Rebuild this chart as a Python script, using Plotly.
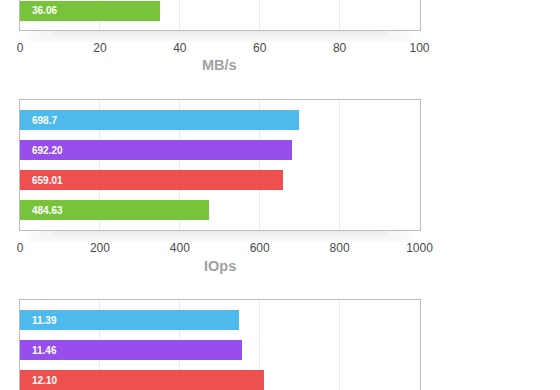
import plotly.graph_objects as go

W, H = 560, 390

# categories bottom -> top
categories = ["green", "red", "purple", "blue"]
colors = {"green": "#77C43B", "red": "#EE4F4F", "purple": "#984EEC", "blue": "#4DBAEB"}

# Panel 1 (MB/s) - only the green bar is visible
mbps_cats = ["green"]
mbps_lengths = [35.1]
mbps_labels = ["36.06"]

# Panel 2 (IOps)
iops_cats = ["green", "red", "purple", "blue"]
iops_lengths = [473.7, 659.0, 681.7, 698.0]
iops_labels = ["484.63", "659.01", "692.20", "698.7"]

# Panel 3 (cut off) - red, purple, blue visible
p3_cats = ["red", "purple", "blue"]
p3_lengths = [12.23, 11.11, 10.98]
p3_labels = ["12.10", "11.46", "11.39"]

x_ticks_mbps = [0, 20, 40, 60, 80, 100]
x_ticks_iops = [0, 200, 400, 600, 800, 1000]
x_ticks_p3 = [0, 4, 8, 12, 16, 20]

def py(px):
    return 1 - px / H

xdom = [20 / W, 419.5 / W]
panels = [
    dict(cats=mbps_cats, vals=mbps_lengths, labels=mbps_labels, ticks=x_ticks_mbps,
         dom=[py(29.5), 1.0], yr=[-0.633, 0.35], title="MB/s", bottom=29.5, top=None),
    dict(cats=iops_cats, vals=iops_lengths, labels=iops_labels, ticks=x_ticks_iops,
         dom=[py(229.5), py(100)], yr=[-0.633, 3.667], title="IOps", bottom=229.5, top=100),
    dict(cats=p3_cats, vals=p3_lengths, labels=p3_labels, ticks=x_ticks_p3,
         dom=[0.0, py(300)], yr=[0.667, 3.667], title=None, bottom=None, top=300),
]

fig = go.Figure()
annotations = []
shapes = []
for i, p in enumerate(panels):
    n = "" if i == 0 else str(i + 1)
    ys = [categories.index(c) for c in p["cats"]]
    fig.add_trace(go.Bar(
        x=p["vals"], y=ys, orientation="h", width=0.667,
        marker=dict(color=[colors[c] for c in p["cats"]], line=dict(width=0)),
        xaxis="x" + n, yaxis="y" + n, hoverinfo="skip", showlegend=False,
    ))
    for yv, lab in zip(ys, p["labels"]):
        annotations.append(dict(
            x=0, y=yv, xref="x" + n, yref="y" + n, text="<b>" + lab + "</b>", showarrow=False,
            xanchor="left", yanchor="middle", xshift=10,
            font=dict(family="Liberation Sans, Arial", size=10, color="white"),
        ))
    has_bottom = p["bottom"] is not None
    xa = dict(
        domain=xdom, range=[p["ticks"][0], p["ticks"][-1]], anchor="y" + n,
        tickvals=p["ticks"], showgrid=True, gridcolor="#EBEBEB", gridwidth=1,
        zeroline=False, showline=True, linecolor="#BDBDBD", linewidth=1,
        ticks="", ticklabelstandoff=7, automargin=False,
        tickfont=dict(family="Liberation Sans, Arial", size=12, color="#4A4A4A"),
        fixedrange=True,
    )
    if i == 1:
        xa["mirror"] = True
    if i == 2:
        xa["side"] = "top"
        xa["showticklabels"] = False
    fig.update_layout(**{"xaxis" + n: xa})
    fig.update_layout(**{"yaxis" + n: dict(
        domain=p["dom"], range=p["yr"], anchor="x" + n, showticklabels=False,
        showgrid=False, zeroline=False, showline=True, mirror=True, automargin=False,
        linecolor="#BDBDBD", linewidth=1, ticks="", fixedrange=True,
    )})
    if p["title"]:
        annotations.append(dict(
            x=(xdom[0] + xdom[1]) / 2, y=py(p["bottom"] + 36), xref="paper", yref="paper",
            text="<b>" + p["title"] + "</b>", showarrow=False, xanchor="center", yanchor="middle",
            font=dict(family="Liberation Sans, Arial", size=14.5, color="#A0A0A0"),
        ))
    if has_bottom:
        b = p["bottom"] + 0.5
        for k, (hgt, inset) in enumerate([(12, 0.02), (9, 0.05), (6, 0.08), (3, 0.1)]):
            w = xdom[1] - xdom[0]
            shapes.append(dict(
                type="rect", xref="paper", yref="paper", layer="below",
                x0=xdom[0] + w * inset, x1=xdom[1] - w * inset,
                y0=py(b + hgt), y1=py(b), line=dict(width=0),
                fillcolor="rgba(0,0,0,0.018)",
            ))

fig.update_layout(
    width=W, height=H, margin=dict(l=0, r=0, t=0, b=0, autoexpand=False),
    paper_bgcolor="white", plot_bgcolor="white",
    annotations=annotations, shapes=shapes, bargap=0,
)

fig.write_html(
    "out.html", config={"displayModeBar": False},
    post_script="document.body.style.margin='0px';document.body.style.overflow='hidden';",
)
